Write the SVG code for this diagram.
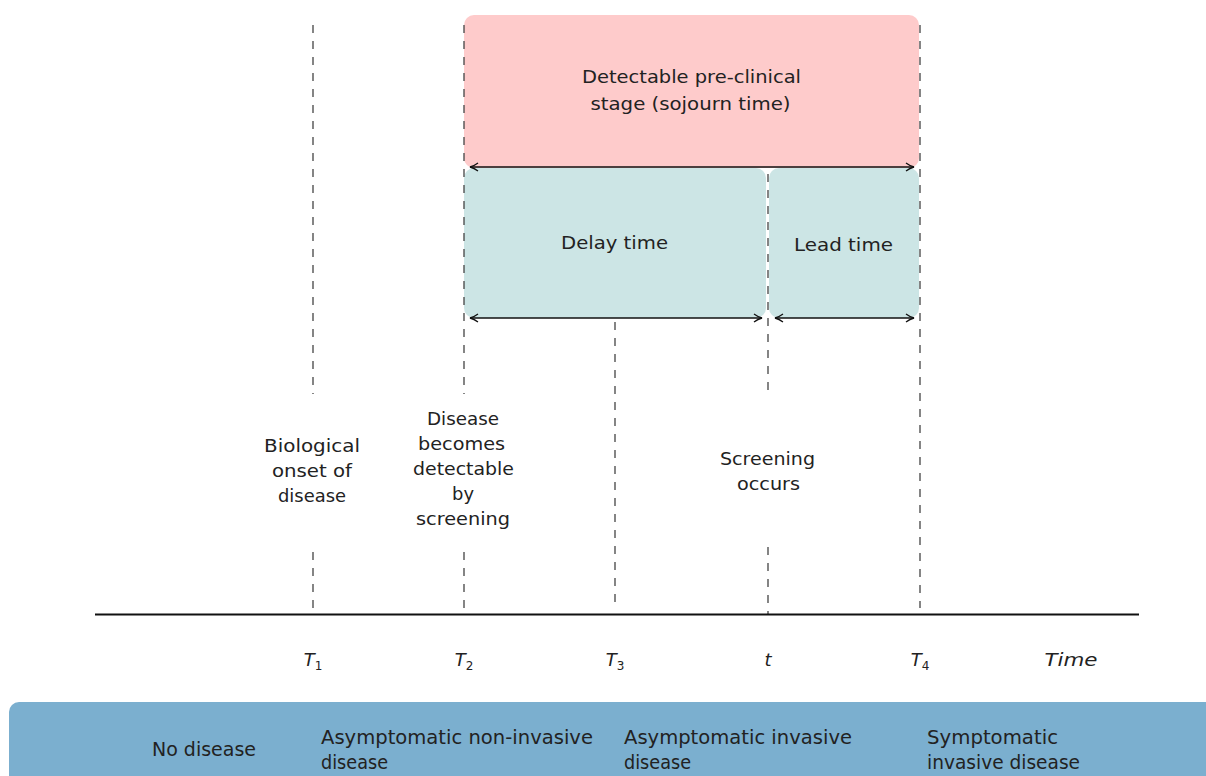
<svg xmlns="http://www.w3.org/2000/svg" width="1206" height="776" viewBox="0 0 1206 776">
  <style>
    .txt { font-family: "DejaVu Sans", "Noto Sans", sans-serif; font-size: 17px; fill: #222; text-anchor: middle; }
    .lbl { font-family: "DejaVu Sans", "Noto Sans", sans-serif; font-size: 19px; fill: #222; }
    .it { font-family: "DejaVu Sans", "Noto Sans", sans-serif; font-style: italic; font-size: 18px; fill: #222; text-anchor: middle; }
    .sub { font-size: 12px; font-style: normal; }
    .dash { stroke: #444; stroke-width: 1.3; stroke-dasharray: 8 8; fill: none; }
    .span { stroke: #111; stroke-width: 1.4; fill: none; marker-start: url(#tipStart); marker-end: url(#tipEnd); }
  </style>
  <defs>
    <marker id="tipEnd" viewBox="0 0 10 10" refX="9" refY="5" markerWidth="10" markerHeight="10" markerUnits="userSpaceOnUse" orient="auto">
      <path d="M1,1 Q5,4 9,5 Q5,6 1,9" fill="none" stroke="#111" stroke-width="1.3"/>
    </marker>
    <marker id="tipStart" viewBox="0 0 10 10" refX="1" refY="5" markerWidth="10" markerHeight="10" markerUnits="userSpaceOnUse" orient="auto">
      <path d="M9,1 Q5,4 1,5 Q5,6 9,9" fill="none" stroke="#111" stroke-width="1.3"/>
    </marker>
  </defs>

  <rect width="1206" height="776" fill="#ffffff"/>

  <!-- stage boxes -->
  <g id="sojourn">
    <rect x="464" y="15" width="455" height="153" rx="10" fill="#FECBCB"/>
    <text class="txt" x="691.5" y="83" textLength="219" lengthAdjust="spacingAndGlyphs">Detectable pre-clinical</text>
    <text class="txt" x="690.5" y="110" textLength="200" lengthAdjust="spacingAndGlyphs">stage (sojourn time)</text>
  </g>
  <g id="delay">
    <rect x="464" y="168" width="302" height="150" rx="10" fill="#CCE5E5"/>
    <text class="txt" x="614.5" y="249" textLength="107" lengthAdjust="spacingAndGlyphs">Delay time</text>
  </g>
  <g id="lead">
    <rect x="769" y="168" width="150" height="150" rx="10" fill="#CCE5E5"/>
    <text class="txt" x="843.5" y="251" textLength="99" lengthAdjust="spacingAndGlyphs">Lead time</text>
  </g>

  <!-- time markers and spans -->
  <g id="connectors">
    <line class="dash" x1="313" y1="25" x2="313" y2="394"/>
    <line class="dash" x1="313" y1="552" x2="313" y2="608"/>
    <line class="dash" x1="464" y1="25" x2="464" y2="394"/>
    <line class="dash" x1="464" y1="552" x2="464" y2="608"/>
    <line class="dash" x1="615" y1="322" x2="615" y2="608"/>
    <line class="dash" x1="768" y1="174" x2="768" y2="392"/>
    <line class="dash" x1="768" y1="547" x2="768" y2="614"/>
    <line class="dash" x1="920" y1="25" x2="920" y2="608"/>

    <line class="span" x1="470" y1="167" x2="914" y2="167"/>
    <line class="span" x1="470" y1="318" x2="762" y2="318"/>
    <line class="span" x1="775" y1="318" x2="914" y2="318"/>

    <line x1="95" y1="614.5" x2="1139" y2="614.5" stroke="#111" stroke-width="1.8"/>
  </g>

  <!-- event labels -->
  <g id="onset">
    <text class="txt" x="312" y="452" textLength="96" lengthAdjust="spacingAndGlyphs">Biological</text>
    <text class="txt" x="312" y="477" textLength="80" lengthAdjust="spacingAndGlyphs">onset of</text>
    <text class="txt" x="312" y="502" textLength="68" lengthAdjust="spacingAndGlyphs">disease</text>
  </g>
  <g id="detectable">
    <text class="txt" x="463" y="425" textLength="72" lengthAdjust="spacingAndGlyphs">Disease</text>
    <text class="txt" x="461.5" y="450" textLength="87" lengthAdjust="spacingAndGlyphs">becomes</text>
    <text class="txt" x="463.5" y="475" textLength="101" lengthAdjust="spacingAndGlyphs">detectable</text>
    <text class="txt" x="463" y="500" textLength="22" lengthAdjust="spacingAndGlyphs">by</text>
    <text class="txt" x="463" y="525" textLength="94" lengthAdjust="spacingAndGlyphs">screening</text>
  </g>
  <g id="screening">
    <text class="txt" x="767.5" y="465" textLength="95" lengthAdjust="spacingAndGlyphs">Screening</text>
    <text class="txt" x="768.5" y="490" textLength="63" lengthAdjust="spacingAndGlyphs">occurs</text>
  </g>

  <!-- axis ticks -->
  <g id="ticks">
    <text class="it" x="313" y="666">T<tspan class="sub" dy="4">1</tspan></text>
    <text class="it" x="464" y="666">T<tspan class="sub" dy="4">2</tspan></text>
    <text class="it" x="615" y="666">T<tspan class="sub" dy="4">3</tspan></text>
    <text class="it" x="768" y="666">t</text>
    <text class="it" x="920" y="666">T<tspan class="sub" dy="4">4</tspan></text>
    <text class="it" x="1071" y="666" textLength="53" lengthAdjust="spacingAndGlyphs">Time</text>
  </g>

  <!-- disease states band -->
  <g id="states">
    <rect x="9" y="702" width="1210" height="90" rx="10" fill="#7BAFCF"/>
    <text class="lbl" x="152" y="756" textLength="104" lengthAdjust="spacingAndGlyphs">No disease</text>
    <text class="lbl" x="321" y="744" textLength="272" lengthAdjust="spacingAndGlyphs">Asymptomatic non-invasive</text>
    <text class="lbl" x="321" y="769" textLength="67" lengthAdjust="spacingAndGlyphs">disease</text>
    <text class="lbl" x="624" y="744" textLength="228" lengthAdjust="spacingAndGlyphs">Asymptomatic invasive</text>
    <text class="lbl" x="624" y="769" textLength="67" lengthAdjust="spacingAndGlyphs">disease</text>
    <text class="lbl" x="927" y="744" textLength="131" lengthAdjust="spacingAndGlyphs">Symptomatic</text>
    <text class="lbl" x="927" y="769" textLength="153" lengthAdjust="spacingAndGlyphs">invasive disease</text>
  </g>
</svg>
